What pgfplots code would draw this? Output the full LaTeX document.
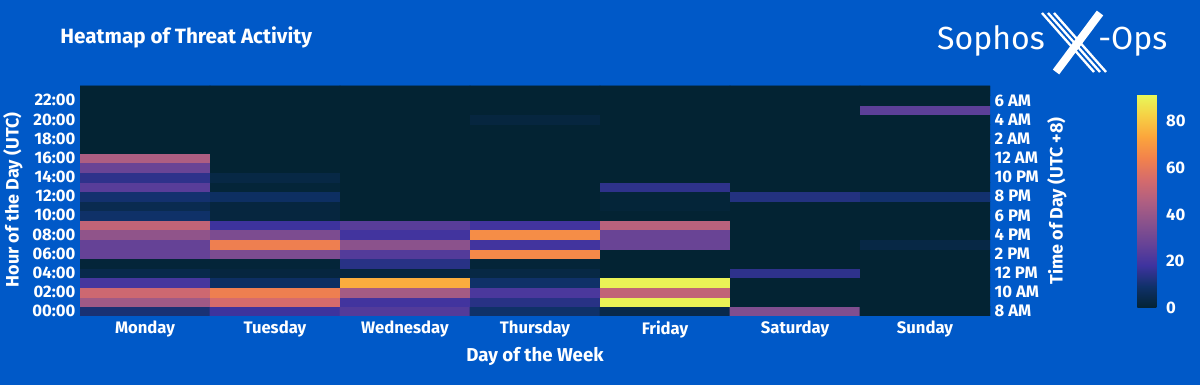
\documentclass[border=0pt]{standalone}
\usepackage{fontspec}
\setmainfont{Fira Sans}
\usepackage{pgfplots}
\pgfplotsset{compat=1.18}
\definecolor{bg}{RGB}{0,89,200}
\pgfplotsset{/pgf/number format/assume math mode=true}
\newcommand{\tickfont}{\fontsize{12.5}{14}\selectfont\bfseries}
\begin{document}
\begin{tikzpicture}
\useasboundingbox (0,0) rectangle (900pt,288.75pt);
\fill[bg] (0,0) rectangle (900pt,288.75pt);
\begin{axis}[
  at={(60pt,51.75pt)}, anchor=south west,
  width=682.5pt, height=172.5pt, scale only axis,
  xmin=-0.5, xmax=6.5, ymin=-0.5, ymax=23.5,
  colormap={thermal}{rgb255=(3,35,51) rgb255=(15,49,105) rgb255=(63,51,159) rgb255=(103,67,150) rgb255=(138,82,140) rgb255=(176,95,129) rgb255=(213,107,108) rgb255=(242,130,76) rgb255=(251,165,60) rgb255=(246,208,69) rgb255=(231,250,90)},
  point meta min=0, point meta max=91.6,
  xtick={0,...,6},
  xticklabels={Monday,Tuesday,Wednesday,Thursday,Friday,Saturday,Sunday},
  ytick={0,2,...,22},
  yticklabels={00:00,02:00,04:00,06:00,08:00,10:00,12:00,14:00,16:00,18:00,20:00,22:00},
  major tick length=0,
  axis line style={draw=none},
  tick label style={white, font=\tickfont},
  colorbar,
  colorbar style={
    at={(parent axis.north east)}, anchor=north west,
    xshift=102pt, yshift=-6pt,
    width=18pt, height=160.5pt,
    ytick={0,20,40,60,80},
    major tick length=0,
    axis line style={draw=none},
    yticklabel style={white, font=\tickfont},
  },
]
\addplot[matrix plot*, mesh/cols=7, point meta=explicit] table[meta=c] {
x y c
0 0 11
1 0 18
2 0 23
3 0 9
4 0 4
5 0 34
6 0 0
0 1 42
1 1 55
2 1 19
3 1 14
4 1 90
5 1 0
6 1 0
0 2 53
1 2 63
2 2 43
3 2 21
4 2 50
5 2 0
6 2 0
0 3 20
1 3 8
2 3 75
3 3 9
4 3 90
5 3 0
6 3 0
0 4 4
1 4 2
2 4 2
3 4 3
4 4 0
5 4 15
6 4 0
0 5 1
1 5 1
2 5 14
3 5 1
4 5 0
5 5 0
6 5 0
0 6 27
1 6 33
2 6 23
3 6 66
4 6 0
5 6 0
6 6 0
0 7 27
1 7 63
2 7 37
3 7 19
4 7 28
5 7 0
6 7 3
0 8 38
1 8 33
2 8 19
3 8 67
4 8 28
5 8 0
6 8 0
0 9 50
1 9 18
2 9 24
3 9 19
4 9 48
5 9 0
6 9 0
0 10 9
1 10 2
2 10 0
3 10 0
4 10 0
5 10 0
6 10 0
0 11 5
1 11 2
2 11 0
3 11 0
4 11 1
5 11 0
6 11 0
0 12 10
1 12 8
2 12 0
3 12 0
4 12 1
5 12 13
6 12 10
0 13 24
1 13 1
2 13 0
3 13 0
4 13 15
5 13 0
6 13 0
0 14 15
1 14 3
2 14 0
3 14 0
4 14 0
5 14 0
6 14 0
0 15 28
1 15 0
2 15 0
3 15 0
4 15 0
5 15 0
6 15 0
0 16 45
1 16 0
2 16 0
3 16 0
4 16 0
5 16 0
6 16 0
0 17 0
1 17 0
2 17 0
3 17 0
4 17 0
5 17 0
6 17 0
0 18 0
1 18 0
2 18 0
3 18 0
4 18 0
5 18 0
6 18 0
0 19 0
1 19 0
2 19 0
3 19 0
4 19 0
5 19 0
6 19 0
0 20 0
1 20 0
2 20 0
3 20 2
4 20 0
5 20 0
6 20 0
0 21 0
1 21 0
2 21 0
3 21 0
4 21 0
5 21 0
6 21 25
0 22 0
1 22 0
2 22 0
3 22 0
4 22 0
5 22 0
6 22 0
0 23 0
1 23 0
2 23 0
3 23 0
4 23 0
5 23 0
6 23 0
};
\end{axis}
\begin{axis}[
  at={(60pt,51.75pt)}, anchor=south west,
  width=682.5pt, height=172.5pt, scale only axis,
  xmin=-0.5, xmax=6.5, ymin=-0.5, ymax=23.5,
  axis x line=none, axis y line*=right,
  ytick={0,2,...,22},
  yticklabels={8 AM,10 AM,12 PM,2 PM,4 PM,6 PM,8 PM,10 PM,12 AM,2 AM,4 AM,6 AM},
  major tick length=0,
  axis line style={draw=none},
  tick label style={white, font=\tickfont},
]
\addplot[draw=none] coordinates {(0,0)};
\end{axis}
\begin{scope}[x=0.75pt,y=0.75pt]
\node[white, anchor=west, inner sep=0, font=\fontsize{15.5}{17}\selectfont\bfseries] at (60,348) {Heatmap of Threat Activity};
\node[white, rotate=90, font=\fontsize{13.5}{15}\selectfont\bfseries] at (13,185) {Hour of the Day (UTC)};
\node[white, rotate=90, font=\fontsize{13.5}{15}\selectfont\bfseries] at (1057,184) {Time of Day (UTC +8)};
\node[white, font=\fontsize{14}{16}\selectfont\bfseries] at (535,29) {Day of the Week};
\node[white, anchor=base east, inner sep=0, font=\fontsize{24}{26}\selectfont] at (1045,335) {Sophos};
\node[white, anchor=base west, inner sep=0, font=\fontsize{24}{26}\selectfont] at (1098,335) {-Ops};
\draw[white, line width=6pt] (1100,372) -- (1056,313);
\foreach \s in {0,6,12}{
  \draw[white, line width=1.8pt] (1042+\s,372) -- (1094+\s,313);
}
\end{scope}
\end{tikzpicture}
\end{document}
